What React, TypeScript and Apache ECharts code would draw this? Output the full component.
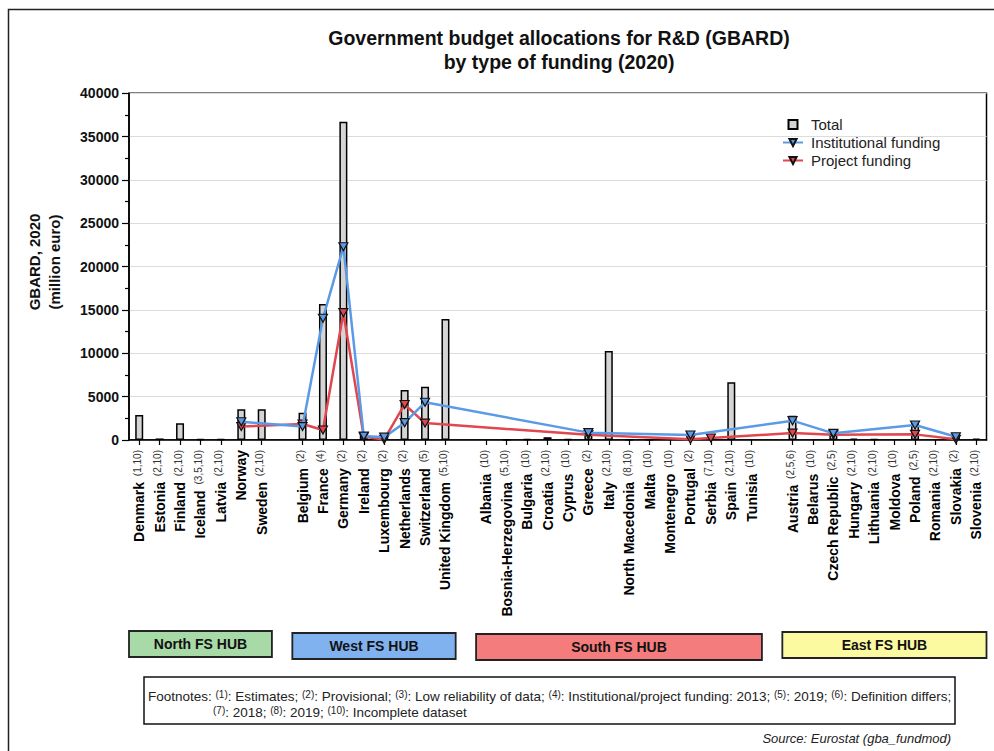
import React, { useEffect, useRef } from 'react';
import * as echarts from 'echarts';

const FONT = '"Liberation Sans", Arial, Helvetica, sans-serif';

// Category slots ('' = spacer between hubs)
const countries = [
  'Denmark', 'Estonia', 'Finland', 'Iceland', 'Latvia', 'Norway', 'Sweden', '',
  'Belgium', 'France', 'Germany', 'Ireland', 'Luxembourg', 'Netherlands', 'Switzerland', 'United Kingdom', '',
  'Albania', 'Bosnia-Herzegovina', 'Bulgaria', 'Croatia', 'Cyprus', 'Greece', 'Italy', 'North Macedonia',
  'Malta', 'Montenegro', 'Portugal', 'Serbia', 'Spain', 'Tunisia', '',
  'Austria', 'Belarus', 'Czech Republic', 'Hungary', 'Lithuania', 'Moldova', 'Poland', 'Romania', 'Slovakia', 'Slovenia',
];

const footnoteMarks = [
  '(1,10)', '(2,10)', '(2,10)', '(3,5,10)', '(2,10)', '', '(2,10)', '',
  '(2)', '(4)', '(2)', '(2)', '(2)', '(2)', '(5)', '(5,10)', '',
  '(10)', '(5,10)', '(10)', '(2,10)', '(10)', '(2)', '(2,10)', '(8,10)',
  '(10)', '(10)', '(2)', '(7,10)', '(2,10)', '(10)', '',
  '(2,5,6)', '(10)', '(2,5)', '(2,10)', '(2,10)', '(10)', '(2,5)', '(2,10)', '(2)', '(2,10)',
];

const totalValues = [
  2880, 180, 1920, 130, 90, 3540, 3560, null,
  3150, 15700, 36730, 850, 400, 5770, 6150, 13960, null,
  null, 60, 100, 320, 90, 1350, 10270, 40,
  40, null, 850, 400, 6650, null, null,
  2800, null, 1070, 150, 100, null, 2110, null, 400, 150,
];

const institutionalValues = [
  null, null, null, null, null, 2100, null, null,
  1550, 14040, 22300, 450, 330, 2000, 4350, null, null,
  null, null, null, null, null, 850, null, null,
  null, null, 580, null, null, null, null,
  2230, null, 770, null, null, null, 1730, null, 380, null,
];

const projectValues = [
  null, null, null, null, null, 1550, null, null,
  1850, 1150, 14690, 380, 70, 4100, 1950, null, null,
  null, null, null, null, null, 600, null, null,
  null, null, 100, 230, null, null, null,
  800, null, 600, null, null, null, 650, null, 80, null,
];

const hubNames = ['North FS HUB', 'West FS HUB', 'South FS HUB', 'East FS HUB'];
const hubFirstSlot = [0, 8, 17, 32];
const hubLastSlot = [6, 15, 30, 41];
const hubColors = ['#a8daa8', '#80b2f0', '#f47c7c', '#fcfaa0'];
const hubTops = [631, 633, 634, 632];

const seriesNames = ['Total', 'Institutional funding', 'Project funding'];
const titleLines = ['Government budget allocations for R&D (GBARD)', 'by type of funding (2020)'];
const yAxisTitle = ['GBARD, 2020', '(million euro)'];
const footnoteLine1 =
  'Footnotes: {s|(1)}: Estimates; {s|(2)}: Provisional; {s|(3)}: Low reliability of data; {s|(4)}: Institutional/project funding: 2013; {s|(5)}: 2019; {s|(6)}: Definition differs;';
const footnoteLine2 = '{s|(7)}: 2018; {s|(8)}: 2019; {s|(10)}: Incomplete dataset';
const sourceText = 'Source: Eurostat (gba_fundmod)';

const BLUE = '#5b9be6';
const RED = '#e0474f';
const TRI = 'path://M0,0L10,0L5,9Z';

export default function App() {
  const ref = useRef<HTMLDivElement>(null);

  useEffect(() => {
    document.body.style.margin = '0';
    if (!ref.current) return;
    const chart = echarts.init(ref.current, undefined, { renderer: 'svg' });

    const option: any = {
      animation: false,
      backgroundColor: '#ffffff',
      textStyle: { fontFamily: FONT },
      grid: {
        left: 129,
        right: 7.5,
        top: 93.3,
        bottom: 311,
        show: true,
        borderColor: '#000',
        borderWidth: 1.5,
        containLabel: false,
        outerBoundsMode: 'none',
      },
      legend: {
        orient: 'vertical',
        left: 777,
        top: 112,
        itemWidth: 20,
        itemHeight: 9,
        itemGap: 3,
        textStyle: { fontFamily: FONT, fontSize: 15, color: '#222', padding: [0, 0, 0, 3] },
        data: [
          { name: seriesNames[0], icon: 'path://M0,0h10v10h-10z' },
          { name: seriesNames[1] },
          { name: seriesNames[2] },
        ],
      },
      xAxis: {
        type: 'category',
        data: countries,
        boundaryGap: true,
        axisLine: { lineStyle: { color: '#000', width: 1.5 } },
        axisTick: {
          show: true,
          alignWithLabel: true,
          length: 5,
          lineStyle: { color: '#000', width: 1.2 },
          interval: (idx: number, val: string) => val !== '',
        },
        axisLabel: {
          interval: 0,
          rotate: 90,
          margin: 10,
          color: '#000',
          fontFamily: FONT,
          fontSize: 14,
          fontWeight: 'bold',
          formatter: (val: string, idx: number) => {
            if (!val) return '';
            const fn = footnoteMarks[idx];
            return fn ? `{n|${val}} {s|${fn}}` : `{n|${val}}`;
          },
          rich: {
            n: { fontFamily: FONT, fontSize: 14, fontWeight: 'bold', color: '#000' },
            s: { fontFamily: FONT, fontSize: 10, fontWeight: 'normal', color: '#333', verticalAlign: 'top', padding: [0, 0, 0, 2] },
          },
        },
        splitLine: { show: false },
      },
      yAxis: {
        type: 'value',
        min: 0,
        max: 40000,
        interval: 5000,
        axisLine: { show: true, lineStyle: { color: '#000', width: 1.5 } },
        axisTick: { show: true, length: 7, lineStyle: { color: '#000', width: 1.2 } },
        minorTick: { show: true, splitNumber: 2, length: 4, lineStyle: { color: '#000', width: 1.2 } },
        axisLabel: {
          color: '#111',
          fontFamily: FONT,
          fontSize: 14,
          fontWeight: 'bold',
          margin: 10,
          formatter: (v: number) => String(v),
        },
        splitLine: { lineStyle: { color: '#dcdcdc', width: 1 } },
      },
      series: [
        {
          name: seriesNames[0],
          type: 'bar',
          data: totalValues,
          barWidth: 8,
          itemStyle: { color: '#d4d4d4', borderColor: '#000', borderWidth: 1.5 },
          z: 2,
        },
        {
          name: seriesNames[2],
          type: 'line',
          data: projectValues,
          connectNulls: true,
          symbol: TRI,
          symbolSize: [9, 8],
          lineStyle: { color: RED, width: 2.5 },
          itemStyle: { color: RED, borderColor: '#111', borderWidth: 1.2 },
          z: 3,
        },
        {
          name: seriesNames[1],
          type: 'line',
          data: institutionalValues,
          connectNulls: true,
          symbol: TRI,
          symbolSize: [9, 8],
          lineStyle: { color: BLUE, width: 2.5 },
          itemStyle: { color: BLUE, borderColor: '#111', borderWidth: 1.2 },
          z: 4,
        },
      ],
    };

    chart.setOption(option);

    const half = (chart.convertToPixel({ xAxisIndex: 0 }, 1) as number) - (chart.convertToPixel({ xAxisIndex: 0 }, 0) as number);
    const hubGraphics = hubNames.map((name, i) => {
      const x0 = (chart.convertToPixel({ xAxisIndex: 0 }, hubFirstSlot[i]) as number) - half / 2;
      const x1 = (chart.convertToPixel({ xAxisIndex: 0 }, hubLastSlot[i]) as number) + half / 2;
      return {
        type: 'group',
        children: [
          {
            type: 'rect',
            shape: { x: x0, y: hubTops[i], width: x1 - x0, height: 26 },
            style: { fill: hubColors[i], stroke: '#222', lineWidth: 1.8 },
          },
          {
            type: 'text',
            x: (x0 + x1) / 2,
            y: hubTops[i] + 13,
            style: {
              text: name,
              fontFamily: FONT,
              fontSize: 14,
              fontWeight: 'bold',
              fill: '#111',
              align: 'center',
              verticalAlign: 'middle',
            },
          },
        ],
      };
    });

    chart.setOption({
      graphic: [
        {
          type: 'polyline',
          shape: { points: [[8.5, 751], [8.5, 9.5], [994, 9.5]] },
          style: { stroke: '#222', lineWidth: 1.5, fill: null },
        },
        {
          type: 'text',
          x: 559,
          y: 50,
          style: {
            text: titleLines.join('\n'),
            fontFamily: FONT,
            fontSize: 19.5,
            fontWeight: 'bold',
            lineHeight: 24,
            fill: '#111',
            align: 'center',
            verticalAlign: 'middle',
          },
        },
        {
          type: 'text',
          x: 44,
          y: 262,
          rotation: Math.PI / 2,
          style: {
            text: yAxisTitle.join('\n'),
            fontFamily: FONT,
            fontSize: 15,
            fontWeight: 'bold',
            lineHeight: 20,
            fill: '#111',
            align: 'center',
            verticalAlign: 'middle',
          },
        },
        ...hubGraphics,
        {
          type: 'rect',
          shape: { x: 144, y: 677, width: 811, height: 47 },
          style: { fill: '#fff', stroke: '#111', lineWidth: 1.5 },
        },
        {
          type: 'text',
          x: 148,
          y: 696,
          style: {
            text: footnoteLine1,
            fontFamily: FONT,
            fontSize: 13.5,
            fill: '#222',
            align: 'left',
            verticalAlign: 'middle',
            rich: { s: { fontFamily: FONT, fontSize: 10, fill: '#222', verticalAlign: 'top' } },
          },
        },
        {
          type: 'text',
          x: 213,
          y: 712,
          style: {
            text: footnoteLine2,
            fontFamily: FONT,
            fontSize: 13.5,
            fill: '#222',
            align: 'left',
            verticalAlign: 'middle',
            rich: { s: { fontFamily: FONT, fontSize: 10, fill: '#222', verticalAlign: 'top' } },
          },
        },
        {
          type: 'text',
          x: 951,
          y: 738,
          style: {
            text: sourceText,
            fontFamily: FONT,
            fontSize: 13,
            fontStyle: 'italic',
            fill: '#222',
            align: 'right',
            verticalAlign: 'middle',
          },
        },
      ],
    });

    return () => {
      chart.dispose();
    };
  }, []);

  return <div ref={ref} style={{ width: 994, height: 751 }} />;
}
